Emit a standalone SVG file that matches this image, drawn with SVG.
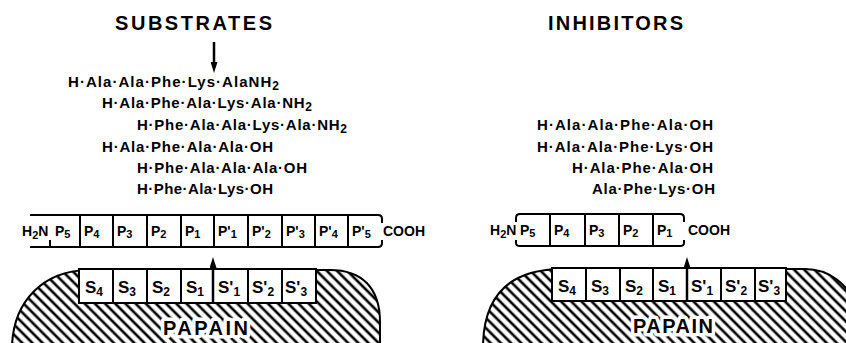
<svg xmlns="http://www.w3.org/2000/svg" width="846" height="343" viewBox="0 0 846 343">
<style>
text{font-family:"Liberation Sans",Arial,sans-serif;font-weight:bold;fill:#000}
.title{font-size:20px}
.pep{font-size:15px}
.p{font-size:14px}
.s{font-size:17px}
.sb{font-size:11px}
.sbs{font-size:12px}
.pr{font-size:12px}
.papain{font-size:20px;stroke:#fff;stroke-width:7px;paint-order:stroke;stroke-linejoin:round}
.ln{fill:none;stroke:#000;stroke-width:2}
.box{fill:#fff;stroke:#000;stroke-width:2}
.blob{fill:url(#hatch);stroke:#000;stroke-width:2}
.arrow{stroke:#000;stroke-width:2.5;fill:none;marker-end:url(#head)}
</style>
<defs>
<pattern id="hatch" patternUnits="userSpaceOnUse" width="7.2" height="7.2" patternTransform="rotate(45)">
<rect width="7.2" height="7.2" fill="#fff"/>
<line x1="-1" y1="3.6" x2="9" y2="3.6" stroke="#000" stroke-width="2.6"/>
</pattern>
<marker id="head" markerUnits="userSpaceOnUse" viewBox="0 0 11 7" markerWidth="11" markerHeight="7" refX="1" refY="3.5" orient="auto">
<path d="M0,0 L11,3.5 L0,7 z" fill="#000"/>
</marker>
</defs>
<rect width="846" height="343" fill="#fff"/>

<g id="title-substrates"><text class="title" x="115" y="30" textLength="157">SUBSTRATES</text></g>
<g id="title-inhibitors"><text class="title" x="548" y="30" textLength="135">INHIBITORS</text></g>

<g id="substrate-list">
<text class="pep" x="68" y="87" textLength="211">H·Ala·Ala·Phe·Lys·AlaNH<tspan class="sbs" dy="3">2</tspan></text>
<text class="pep" x="102" y="108" textLength="210">H·Ala·Phe·Ala·Lys·Ala·NH<tspan class="sbs" dy="3">2</tspan></text>
<text class="pep" x="137" y="130" textLength="210">H·Phe·Ala·Ala·Lys·Ala·NH<tspan class="sbs" dy="3">2</tspan></text>
<text class="pep" x="102" y="152" textLength="171">H·Ala·Phe·Ala·Ala·OH</text>
<text class="pep" x="137" y="173" textLength="170">H·Phe·Ala·Ala·Ala·OH</text>
<text class="pep" x="137" y="194" textLength="136">H·Phe·Ala·Lys·OH</text>
</g>

<g id="inhibitor-list">
<text class="pep" x="537" y="130" textLength="176">H·Ala·Ala·Phe·Ala·OH</text>
<text class="pep" x="537" y="152" textLength="176">H·Ala·Ala·Phe·Lys·OH</text>
<text class="pep" x="572" y="173" textLength="141">H·Ala·Phe·Ala·OH</text>
<text class="pep" x="592" y="194" textLength="123">Ala·Phe·Lys·OH</text>
</g>

<g id="substrate-chain">
<path class="ln" d="M30 215 H378 Q382 215 382 219 V223 M30 247 H378 Q382 247 382 243 V240 M50 240 V247 M80 215 V247 M113 215 V247 M147 215 V247 M181 215 V247 M214 215 V247 M248 215 V247 M282 215 V247 M315 215 V247 M348 215 V247"/>
<text class="p" x="22" y="236">H<tspan class="sb" dy="3">2</tspan><tspan dy="-3">N</tspan></text>
<text class="p" x="55" y="236">P<tspan class="sb" dy="2">5</tspan></text>
<text class="p" x="84" y="236">P<tspan class="sb" dy="2">4</tspan></text>
<text class="p" x="117" y="236">P<tspan class="sb" dy="2">3</tspan></text>
<text class="p" x="151" y="236">P<tspan class="sb" dy="2">2</tspan></text>
<text class="p" x="185" y="236">P<tspan class="sb" dy="2">1</tspan></text>
<text class="p" x="218" y="236">P'<tspan class="sb" dy="2">1</tspan></text>
<text class="p" x="252" y="236">P'<tspan class="sb" dy="2">2</tspan></text>
<text class="p" x="286" y="236">P'<tspan class="sb" dy="2">3</tspan></text>
<text class="p" x="319" y="236">P'<tspan class="sb" dy="2">4</tspan></text>
<text class="p" x="352" y="236">P'<tspan class="sb" dy="2">5</tspan></text>
<text class="p" x="383" y="236">COOH</text>
</g>

<g id="inhibitor-chain">
<path class="ln" d="M516 222 V218 Q516 214 520 214 H680 Q684 214 684 218 V222 M516 240 V243 Q516 246 520 246 H680 Q684 246 684 243 V240 M550 214 V246 M585 214 V246 M619 214 V246 M653 214 V246"/>
<text class="p" x="490" y="235">H<tspan class="sb" dy="3">2</tspan><tspan dy="-3">N</tspan></text>
<text class="p" x="520" y="235">P<tspan class="sb" dy="2">5</tspan></text>
<text class="p" x="554" y="235">P<tspan class="sb" dy="2">4</tspan></text>
<text class="p" x="589" y="235">P<tspan class="sb" dy="2">3</tspan></text>
<text class="p" x="623" y="235">P<tspan class="sb" dy="2">2</tspan></text>
<text class="p" x="657" y="235">P<tspan class="sb" dy="2">1</tspan></text>
<text class="p" x="688" y="235">COOH</text>
</g>

<g id="papain-left">
<path class="blob" d="M12 350 L12 345 C14 302 42 271 88 270 L330 270 C362 270 380 288 380 322 L380 350 Z"/>
<rect class="box" x="79" y="269" width="34" height="34"/>
<rect class="box" x="113" y="269" width="34" height="34"/>
<rect class="box" x="147" y="269" width="34" height="34"/>
<rect class="box" x="181" y="269" width="32" height="34"/>
<rect class="box" x="213" y="269" width="35" height="34"/>
<rect class="box" x="248" y="269" width="34" height="34"/>
<rect class="box" x="282" y="269" width="34" height="34"/>
<text class="s" x="85" y="293">S<tspan class="sbs" dy="3">4</tspan></text>
<text class="s" x="118" y="293">S<tspan class="sbs" dy="3">3</tspan></text>
<text class="s" x="152" y="293">S<tspan class="sbs" dy="3">2</tspan></text>
<text class="s" x="186" y="293">S<tspan class="sbs" dy="3">1</tspan></text>
<text class="s" x="218" y="293">S'<tspan class="sbs" dy="3">1</tspan></text>
<text class="s" x="252" y="293">S'<tspan class="sbs" dy="3">2</tspan></text>
<text class="s" x="285" y="293">S'<tspan class="sbs" dy="3">3</tspan></text>
<text class="papain" x="163" y="335" textLength="85">PAPAIN</text>
</g>

<g id="papain-right">
<path class="blob" d="M483 350 L483 345 C484 300 505 270 560 269 L805 269 C830 269 848 285 856 305 L856 350 Z"/>
<rect class="box" x="552" y="268" width="34" height="33"/>
<rect class="box" x="586" y="268" width="34" height="33"/>
<rect class="box" x="620" y="268" width="33" height="33"/>
<rect class="box" x="653" y="268" width="34" height="33"/>
<rect class="box" x="687" y="268" width="34" height="33"/>
<rect class="box" x="721" y="268" width="34" height="33"/>
<rect class="box" x="755" y="268" width="31" height="33"/>
<text class="s" x="558" y="292">S<tspan class="sbs" dy="3">4</tspan></text>
<text class="s" x="591" y="292">S<tspan class="sbs" dy="3">3</tspan></text>
<text class="s" x="625" y="292">S<tspan class="sbs" dy="3">2</tspan></text>
<text class="s" x="658" y="292">S<tspan class="sbs" dy="3">1</tspan></text>
<text class="s" x="691" y="292">S'<tspan class="sbs" dy="3">1</tspan></text>
<text class="s" x="725" y="292">S'<tspan class="sbs" dy="3">2</tspan></text>
<text class="s" x="758" y="292">S'<tspan class="sbs" dy="3">3</tspan></text>
<text class="papain" x="633" y="333" textLength="80">PAPAIN</text>
</g>

<g id="connectors">
<line class="arrow" x1="214" y1="42" x2="214" y2="63"/>
<line class="arrow" x1="213" y1="303" x2="213" y2="267"/>
<line class="arrow" x1="687" y1="301" x2="687" y2="267"/>
</g>
</svg>
